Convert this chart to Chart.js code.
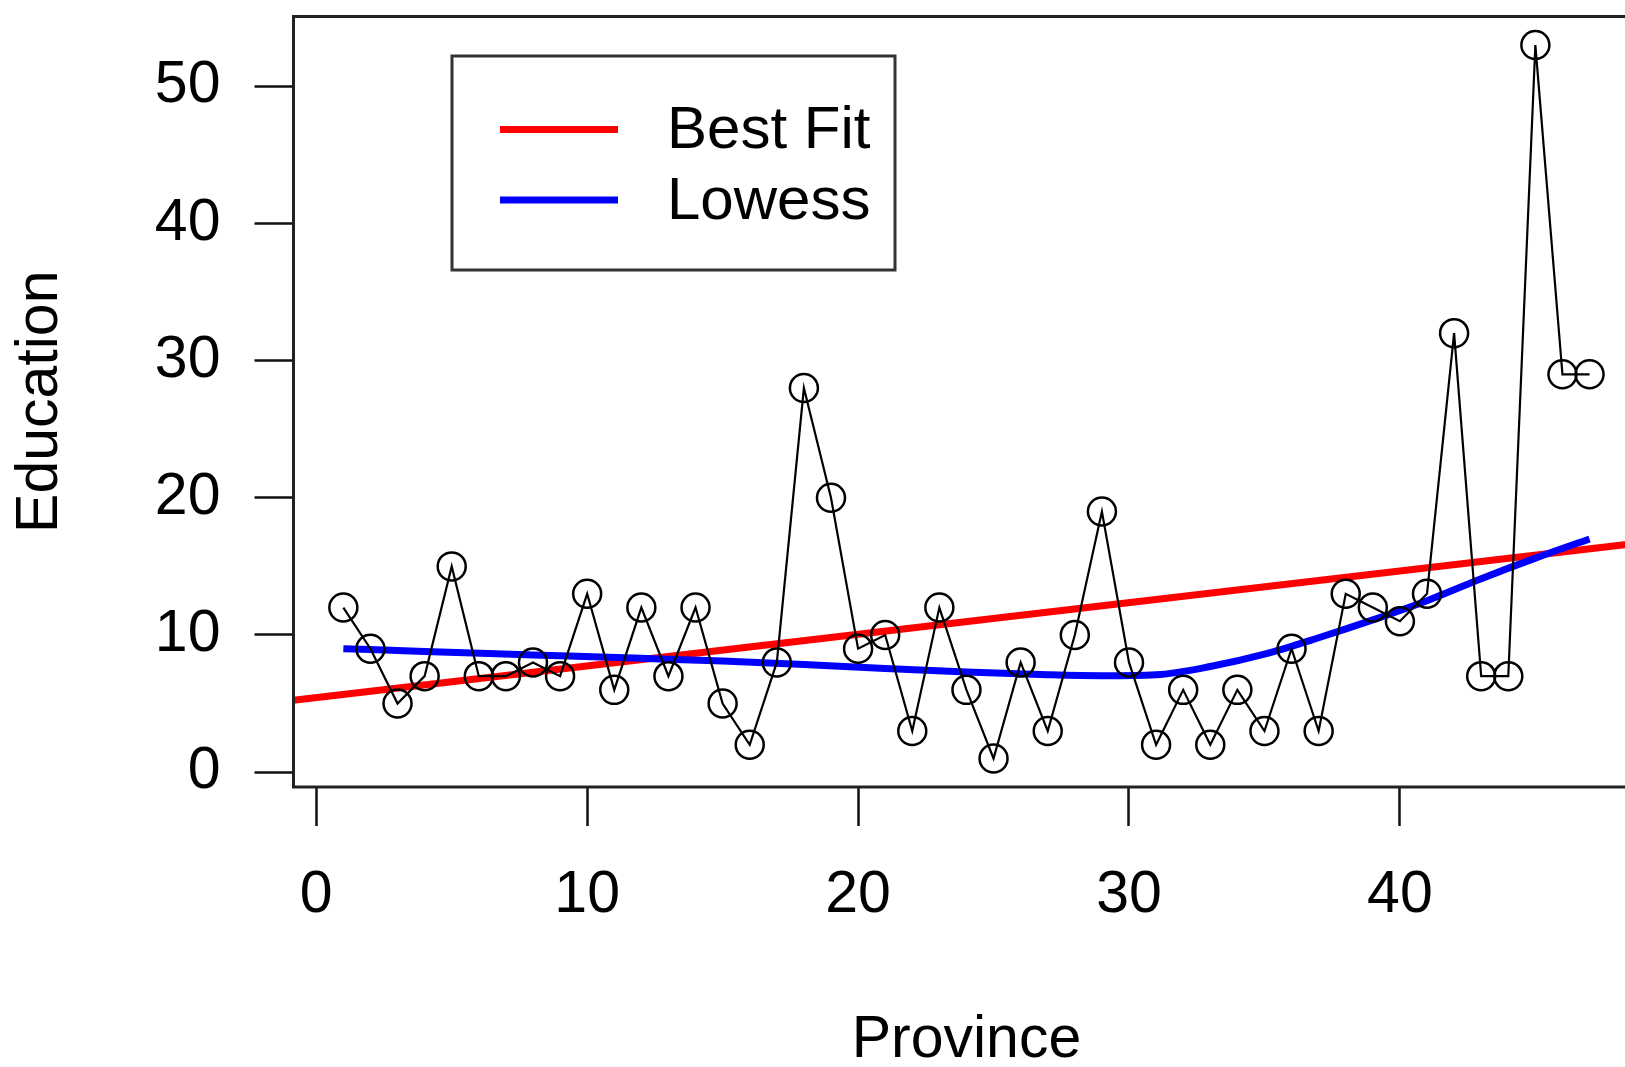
<!DOCTYPE html>
<html>
<head>
<meta charset="utf-8">
<title>Education by Province</title>
<script src="https://cdn.jsdelivr.net/npm/chart.js@4.4.0/dist/chart.umd.min.js"></script>
<style>
  html, body { margin: 0; padding: 0; background: #fff; overflow: hidden; }
  #wrap { width: 1625px; height: 1067px; overflow: hidden; }
  canvas { display: block; }
</style>
</head>
<body>
<div id="wrap"><canvas id="chart" width="1700" height="1067"></canvas></div>
<script>
// Swiss provinces: education (% beyond primary school), index 1..47
const province = [1,2,3,4,5,6,7,8,9,10,11,12,13,14,15,16,17,18,19,20,21,22,23,24,25,26,27,28,29,30,31,32,33,34,35,36,37,38,39,40,41,42,43,44,45,46,47];
const education = [12,9,5,7,15,7,7,8,7,13,6,12,7,12,5,2,8,28,20,9,10,3,12,6,1,8,3,10,19,8,2,6,2,6,3,9,3,13,12,11,13,32,7,7,53,29,29];

// best fit line, read at the plot edges
const fitX = [-0.84, 48.84];
const fitY = [5.25, 16.7];

// lowess curve
const lowessX = [1, 4, 8, 12, 15, 18, 21, 24, 27, 29, 31, 33, 35, 37, 39, 41, 43, 45, 47];
const lowessY = [9.0, 8.8, 8.55, 8.3, 8.1, 7.85, 7.55, 7.3, 7.1, 7.03, 7.1, 7.7, 8.6, 9.8, 11.1, 12.5, 14.1, 15.6, 17.0];

const xTicks = [0, 10, 20, 30, 40];
const yTicks = [0, 10, 20, 30, 40, 50];
const legendLabels = ['Best Fit', 'Lowess'];

const FONT = "'Liberation Sans', Arial, Helvetica, sans-serif";
const pts = (xs, ys) => xs.map((x, i) => ({ x, y: ys[i] }));

// R-style frame + legend in the top left
const rFrame = {
  id: 'rFrame',
  afterDraw(chart) {
    const { ctx, chartArea: a } = chart;
    ctx.save();
    ctx.strokeStyle = '#222';
    ctx.lineWidth = 3;
    ctx.strokeRect(a.left, a.top, a.right - a.left, a.bottom - a.top);

    // legend
    const box = { x: 452, y: 56, w: 443, h: 214 };
    ctx.strokeStyle = '#333';
    ctx.strokeRect(box.x, box.y, box.w, box.h);
    const rows = [129.5, 200];
    const cols = [chart.data.datasets[1].borderColor, chart.data.datasets[2].borderColor];
    ctx.font = '60px ' + FONT;
    ctx.fillStyle = '#000';
    ctx.textBaseline = 'middle';
    rows.forEach((y, i) => {
      ctx.strokeStyle = cols[i];
      ctx.lineWidth = 7;
      ctx.beginPath();
      ctx.moveTo(500, y);
      ctx.lineTo(618, y);
      ctx.stroke();
      ctx.fillText(legendLabels[i], 667, y + 2);
    });
    ctx.restore();
  }
};

const tickFont = { family: FONT, size: 59 };

new Chart(document.getElementById('chart'), {
  type: 'line',
  data: {
    datasets: [
      {
        label: 'Education',
        data: pts(province, education),
        borderColor: '#000',
        borderWidth: 2.2,
        pointRadius: 14,
        pointBorderWidth: 2.5,
        pointBorderColor: '#000',
        pointBackgroundColor: 'rgba(0,0,0,0)',
        tension: 0,
        order: 0
      },
      {
        label: legendLabels[0],
        data: pts(fitX, fitY),
        borderColor: '#ff0000',
        borderWidth: 7,
        pointRadius: 0,
        order: 2
      },
      {
        label: legendLabels[1],
        data: pts(lowessX, lowessY),
        borderColor: '#0000ff',
        borderWidth: 7,
        pointRadius: 0,
        cubicInterpolationMode: 'monotone',
        order: 1
      }
    ]
  },
  options: {
    responsive: false,
    animation: false,
    devicePixelRatio: 1,
    layout: { padding: { top: 13.5, right: 60.6, left: 0, bottom: 0 } },
    plugins: { legend: { display: false }, tooltip: { enabled: false } },
    events: [],
    scales: {
      x: {
        type: 'linear',
        position: 'bottom',
        min: -0.84,
        max: 48.84,
        afterBuildTicks: s => { s.ticks = xTicks.map(v => ({ value: v })); },
        afterFit: s => { s.height = 280; s.paddingLeft = 0; s.paddingRight = 0; },
        grid: { display: true, drawOnChartArea: false, drawTicks: true, tickLength: 39, tickWidth: 2.5, tickColor: '#111' },
        border: { display: false },
        ticks: { font: tickFont, color: '#000', padding: 34, maxRotation: 0, autoSkip: false },
        title: { display: true, text: 'Province', color: '#000', font: { family: FONT, size: 59, lineHeight: 0.8 }, padding: { top: 0, bottom: 3 } }
      },
      y: {
        type: 'linear',
        position: 'left',
        min: -1.08,
        max: 55.08,
        afterBuildTicks: s => { s.ticks = yTicks.map(v => ({ value: v })); },
        afterFit: s => { s.width = 293.5; s.paddingTop = 0; s.paddingBottom = 0; },
        grid: { display: true, drawOnChartArea: false, drawTicks: true, tickLength: 39, tickWidth: 2.5, tickColor: '#111' },
        border: { display: false },
        ticks: { font: tickFont, color: '#000', padding: 34, autoSkip: false },
        title: { display: true, text: 'Education', color: '#000', font: { family: FONT, size: 59, lineHeight: 0.8 }, padding: { top: 17.5, bottom: 0 } }
      }
    }
  },
  plugins: [rFrame]
});
</script>
</body>
</html>
